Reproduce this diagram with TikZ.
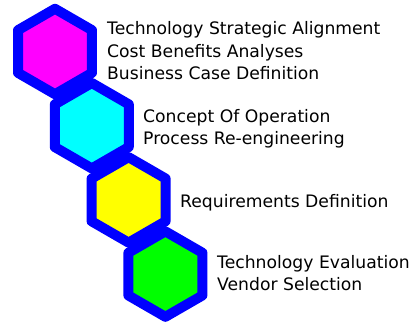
\documentclass[tikz,border=0pt]{standalone}
\usepackage{fontspec}
\setmainfont{DejaVu Sans}
\usetikzlibrary{shapes.geometric}
\definecolor{hexblue}{RGB}{0,0,255}
\definecolor{hexmag}{RGB}{255,0,255}
\definecolor{hexcyan}{RGB}{0,255,255}
\definecolor{hexyel}{RGB}{255,255,0}
\definecolor{hexgreen}{RGB}{0,255,0}
\tikzset{
  hexstep/.style={regular polygon, regular polygon sides=6, minimum size=85.44pt,
    shape border rotate=30,
    inner sep=0pt, draw=hexblue, line width=10pt, line join=round},
  label text/.style={anchor=base west, inner sep=0pt, font=\fontsize{17.2}{20}\selectfont}
}
\begin{document}
\begin{tikzpicture}[x=1pt,y=-1pt]
\useasboundingbox (0,0) rectangle (413,322);
\node[hexstep, fill=hexmag]   (h1) at (55,51.5) {};
\node[hexstep, fill=hexcyan]  (h2) at (91.8,125.7) {};
\node[hexstep, fill=hexyel]   (h3) at (128.6,199.9) {};
\node[hexstep, fill=hexgreen] (h4) at (165.4,274.1) {};
\node[label text] (t1a) at (107,34.5) {Technology Strategic Alignment};
\node[label text] (t1b) at (107,57) {Cost Benefits Analyses};
\node[label text] (t1c) at (107,79.5) {Business Case Definition};
\node[label text] (t2a) at (143,122) {Concept Of Operation};
\node[label text] (t2b) at (143,144) {Process Re-engineering};
\node[label text] (t3a) at (180,207) {Requirements Definition};
\node[label text] (t4a) at (217,268) {Technology Evaluation};
\node[label text] (t4b) at (217,290) {Vendor Selection};
\end{tikzpicture}
\end{document}
